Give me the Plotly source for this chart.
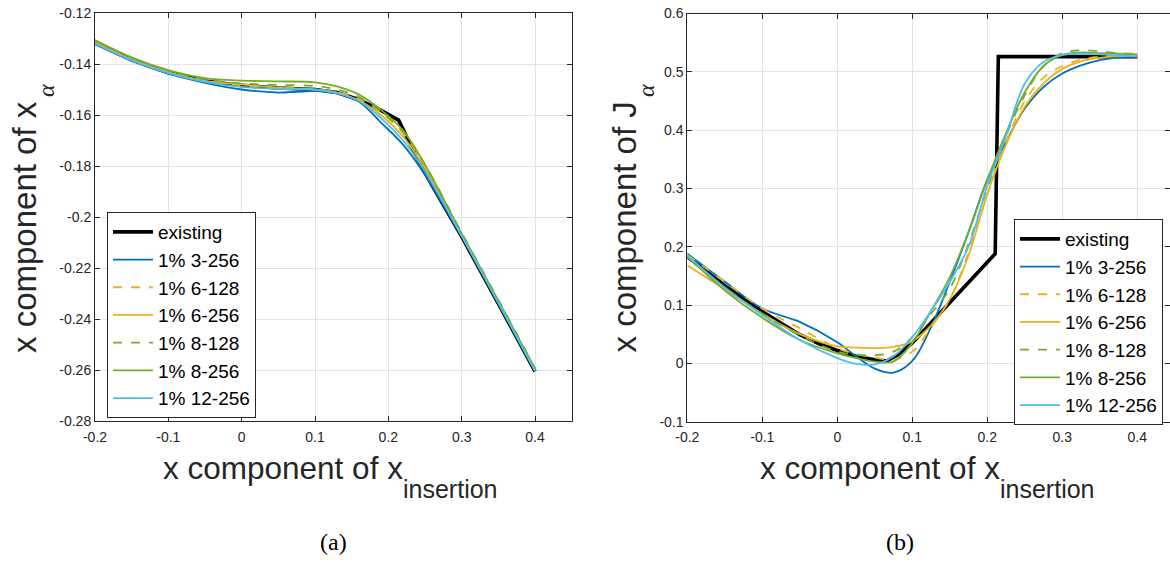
import plotly.graph_objects as go

# ---------------- data: panel (a) ----------------
xa = [-0.2, -0.15, -0.1, -0.05, 0, 0.05, 0.1, 0.13, 0.16, 0.19, 0.22, 0.25, 0.3, 0.35, 0.4]
a_3_256 = [-0.1322, -0.1388, -0.1438, -0.1474, -0.1500, -0.1512, -0.1506, -0.1516, -0.1548, -0.1630, -0.1716, -0.1835, -0.2078, -0.2340, -0.2605]
a_6_128 = [-0.1312, -0.1380, -0.1430, -0.1465, -0.1484, -0.1493, -0.1499, -0.1510, -0.1538, -0.1590, -0.1672, -0.1800, -0.2068, -0.2330, -0.2598]
a_6_256 = [-0.1314, -0.1382, -0.1432, -0.1466, -0.1480, -0.1493, -0.1500, -0.1512, -0.1543, -0.1600, -0.1685, -0.1810, -0.2072, -0.2333, -0.2600]
a_8_128 = [-0.1308, -0.1376, -0.1426, -0.1460, -0.1476, -0.1482, -0.1486, -0.1500, -0.1530, -0.1587, -0.1665, -0.1795, -0.2062, -0.2325, -0.2592]
a_8_256 = [-0.1306, -0.1374, -0.1424, -0.1455, -0.1465, -0.1468, -0.1472, -0.1488, -0.1520, -0.1580, -0.1660, -0.1795, -0.2065, -0.2328, -0.2595]
a_12_256 = [-0.1320, -0.1386, -0.1436, -0.1470, -0.1490, -0.1498, -0.1500, -0.1515, -0.1545, -0.1612, -0.1700, -0.1822, -0.2074, -0.2337, -0.2603]
xa_exist = [-0.2, -0.15, -0.1, -0.05, 0, 0.05, 0.1, 0.13, 0.16, 0.19, 0.214, 0.238, 0.258, 0.3, 0.35, 0.4]
a_exist = [-0.1318, -0.1384, -0.1434, -0.1467, -0.1484, -0.1494, -0.1500, -0.1512, -0.1540, -0.1582, -0.1620, -0.1763, -0.1868, -0.2077, -0.2340, -0.2605]

# ---------------- data: panel (b) ----------------
xb = [-0.2, -0.15, -0.1, -0.05, 0, 0.025, 0.05, 0.075, 0.1, 0.125, 0.15, 0.175, 0.2, 0.225, 0.25, 0.275, 0.3, 0.325, 0.35, 0.375, 0.4]
b_3_256 = [0.188, 0.140, 0.094, 0.071, 0.036, 0.012, -0.009, -0.016, 0.004, 0.062, 0.140, 0.225, 0.315, 0.380, 0.437, 0.474, 0.497, 0.511, 0.520, 0.525, 0.526]
b_6_128 = [0.186, 0.140, 0.094, 0.060, 0.026, 0.016, 0.010, 0.006, 0.020, 0.062, 0.110, 0.190, 0.290, 0.380, 0.450, 0.490, 0.510, 0.521, 0.526, 0.528, 0.529]
b_6_256 = [0.168, 0.127, 0.085, 0.050, 0.029, 0.027, 0.026, 0.028, 0.038, 0.065, 0.110, 0.185, 0.290, 0.375, 0.440, 0.480, 0.505, 0.518, 0.524, 0.527, 0.528]
b_8_128 = [0.182, 0.130, 0.085, 0.048, 0.020, 0.015, 0.014, 0.020, 0.045, 0.085, 0.128, 0.205, 0.300, 0.390, 0.460, 0.510, 0.532, 0.537, 0.535, 0.532, 0.531]
b_8_256 = [0.183, 0.125, 0.078, 0.040, 0.017, 0.009, 0.003, 0.003, 0.035, 0.090, 0.148, 0.225, 0.315, 0.395, 0.465, 0.510, 0.529, 0.533, 0.532, 0.531, 0.530]
b_12_256 = [0.185, 0.130, 0.083, 0.040, 0.009, -0.001, -0.002, 0.012, 0.045, 0.090, 0.140, 0.200, 0.305, 0.390, 0.480, 0.517, 0.529, 0.531, 0.530, 0.528, 0.526]
xb_exist = [-0.2, -0.15, -0.1, -0.05, -0.025, 0, 0.025, 0.05, 0.066, 0.08, 0.1, 0.2105, 0.2147, 0.4]
b_exist = [0.183, 0.133, 0.089, 0.049, 0.034, 0.022, 0.012, 0.006, 0.004, 0.014, 0.035, 0.188, 0.526, 0.526]

series_names = ["1% 3-256", "1% 6-128", "1% 6-256", "1% 8-128", "1% 8-256", "1% 12-256"]

# tick labels
x_ticks = [-0.2, -0.1, 0, 0.1, 0.2, 0.3, 0.4]
x_ticktext = ["-0.2", "-0.1", "0", "0.1", "0.2", "0.3", "0.4"]
ya_ticks = [-0.28, -0.26, -0.24, -0.22, -0.2, -0.18, -0.16, -0.14, -0.12]
ya_ticktext = ["-0.28", "-0.26", "-0.24", "-0.22", "-0.2", "-0.18", "-0.16", "-0.14", "-0.12"]
yb_ticks = [-0.1, 0, 0.1, 0.2, 0.3, 0.4, 0.5, 0.6]
yb_ticktext = ["-0.1", "0", "0.1", "0.2", "0.3", "0.4", "0.5", "0.6"]

# ---------------- styles ----------------
styles = [
    dict(color="#0072BD", dash="solid"),
    dict(color="#EDB120", dash="dash"),
    dict(color="#EDB120", dash="solid"),
    dict(color="#77AC30", dash="dash"),
    dict(color="#77AC30", dash="solid"),
    dict(color="#4DBEEE", dash="solid"),
]
W, H = 1170, 573
AX = "#262626"
GRID = "#e3e3e3"
FONT = "Liberation Sans, Arial, sans-serif"
SERIF = "Liberation Serif, Times New Roman, serif"

fig = go.Figure()

# panel (a)
fig.add_trace(go.Scatter(x=xa_exist, y=a_exist, mode="lines", name="existing",
                         line=dict(color="black", width=3.6), xaxis="x", yaxis="y", legend="legend"))
for nm, ys, st in zip(series_names, [a_3_256, a_6_128, a_6_256, a_8_128, a_8_256, a_12_256], styles):
    fig.add_trace(go.Scatter(x=xa, y=ys, mode="lines", name=nm,
                             line=dict(color=st["color"], dash=st["dash"], width=1.8, shape="spline", smoothing=1.0),
                             xaxis="x", yaxis="y", legend="legend"))

# panel (b)
fig.add_trace(go.Scatter(x=xb_exist, y=b_exist, mode="lines", name="existing",
                         line=dict(color="black", width=3.6), xaxis="x2", yaxis="y2", legend="legend2"))
for nm, ys, st in zip(series_names, [b_3_256, b_6_128, b_6_256, b_8_128, b_8_256, b_12_256], styles):
    fig.add_trace(go.Scatter(x=xb, y=ys, mode="lines", name=nm,
                             line=dict(color=st["color"], dash=st["dash"], width=1.8, shape="spline", smoothing=1.0),
                             xaxis="x2", yaxis="y2", legend="legend2"))

def axis_common(standoff):
    return dict(showline=True, linecolor=AX, linewidth=1, mirror="ticks", ticks="inside",
                ticklen=5, tickcolor=AX, tickwidth=1, showgrid=True, gridcolor=GRID, gridwidth=1,
                zeroline=False, tickfont=dict(family=FONT, size=14, color=AX), fixedrange=True,
                ticklabelstandoff=standoff)

# pixel geometry
ax_l, ax_r = 95, 571.7
ay_t, ay_b = 13, 421
bx_l, bx_r = 687.3, 1170
by_t, by_b = 13.5, 421.6

legend_common = dict(xanchor="left", yanchor="top", bgcolor="white", bordercolor=AX, borderwidth=1,
                     font=dict(family=FONT, size=19, color="black"), itemwidth=40, tracegroupgap=0)

fig.update_layout(
    width=W, height=H, margin=dict(l=0, r=0, t=0, b=0, autoexpand=False),
    paper_bgcolor="white", plot_bgcolor="white",
    xaxis=dict(domain=[ax_l / W, ax_r / W], range=[-0.2, 0.45], tickvals=x_ticks, ticktext=x_ticktext,
               anchor="y", **axis_common(3)),
    yaxis=dict(domain=[1 - ay_b / H, 1 - ay_t / H], range=[-0.28, -0.12], tickvals=ya_ticks, ticktext=ya_ticktext,
               anchor="x", **axis_common(0)),
    xaxis2=dict(domain=[bx_l / W, bx_r / W], range=[-0.2, -0.2 + (bx_r - bx_l) / 750.0], tickvals=x_ticks,
                ticktext=x_ticktext, anchor="y2", **axis_common(3)),
    yaxis2=dict(domain=[1 - by_b / H, 1 - by_t / H], range=[-0.1, 0.6], tickvals=yb_ticks, ticktext=yb_ticktext,
                anchor="x2", **axis_common(0)),
    legend=dict(x=107 / W, y=1 - 212 / H, **legend_common),
    legend2=dict(x=1014 / W, y=1 - 219 / H, **legend_common),
    showlegend=True,
)

def txt(text, px, py, size, xanchor="center", yanchor="middle", angle=0, family=FONT, color=AX):
    fig.add_annotation(xref="paper", yref="paper", x=px / W, y=1 - py / H, text=text, showarrow=False,
                       xanchor=xanchor, yanchor=yanchor, textangle=angle,
                       font=dict(family=family, size=size, color=color))

# x-axis titles (main text + subscript)
for off in (0, 597):
    txt("x component of x", 405 + off, 468, 31.5, xanchor="right")
    txt("insertion", 401 + off, 489, 25, xanchor="left")

# y-axis titles (rotated) with italic alpha subscript
for off, main in ((0, "x component of x"), (600, "x component of J")):
    txt(main, 24 + off, 355, 33, yanchor="bottom", angle=-90)
    txt("<i>α</i>", 46 + off, 91, 24, angle=-90, family=SERIF)

# captions
txt("(a)", 333, 542, 24, family=SERIF, color="black")
txt("(b)", 900, 542, 24, family=SERIF, color="black")

fig.write_html("out.html")
